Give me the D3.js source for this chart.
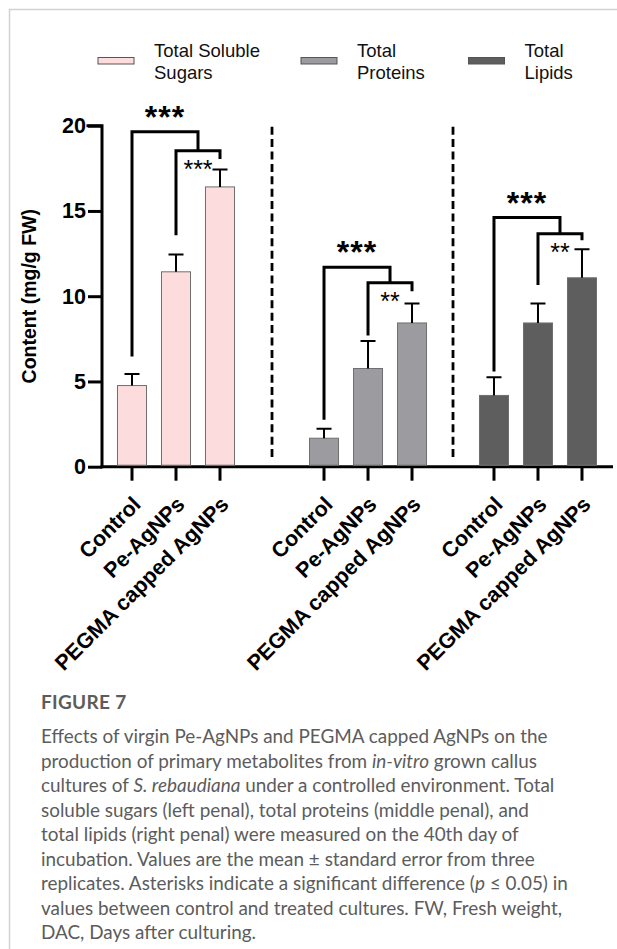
<!DOCTYPE html>
<html>
<head>
<meta charset="utf-8">
<script src="https://cdn.jsdelivr.net/npm/d3@7"></script>
<style>
  body { margin: 0; background: #fff; }
  svg { display: block; }
</style>
</head>
<body>
<svg id="chart" width="617" height="949"></svg>
<script>
// ---- data ----
const panelNames = ["Total Soluble Sugars", "Total Proteins", "Total Lipids"];
const legendLines = [["Total Soluble", "Sugars"], ["Total", "Proteins"], ["Total", "Lipids"]];
const treatments = ["Control", "Pe-AgNPs", "PEGMA capped AgNPs"];

const sugarMeans = [4.76, 11.43, 16.41];
const sugarErrors = [0.67, 1.02, 1.02];
const proteinMeans = [1.67, 5.76, 8.43];
const proteinErrors = [0.55, 1.61, 1.14];
const lipidMeans = [4.18, 8.43, 11.08];
const lipidErrors = [1.06, 1.14, 1.67];

const yTicks = [0, 5, 10, 15, 20];

// significance labels: outer bracket (Control vs treatments), inner bracket (Pe vs PEGMA)
const outerStars = ["***", "***", "***"];
const innerStars = ["***", "**", "**"];
// bracket levels in mg/g FW: [outer top, outer left foot, inner top, inner left foot, inner right foot]
const sugarBracket = [19.65, 6.47, 18.53, 13.57, 18.04];
const proteinBracket = [11.7, 2.75, 10.79, 7.69, 10.29];
const lipidBracket = [14.61, 5.59, 13.67, 10.65, 13.28];

const captionTitle = "FIGURE 7";
const captionLines = [
  [["Effects of virgin Pe-AgNPs and PEGMA capped AgNPs on the", false]],
  [["production of primary metabolites from ", false], ["in-vitro", true], [" grown callus", false]],
  [["cultures of ", false], ["S. rebaudiana", true], [" under a controlled environment. Total", false]],
  [["soluble sugars (left penal), total proteins (middle penal), and", false]],
  [["total lipids (right penal) were measured on the 40th day of", false]],
  [["incubation. Values are the mean \u00B1 standard error from three", false]],
  [["replicates. Asterisks indicate a significant difference (", false], ["p", true], [" \u2264 0.05) in", false]],
  [["values between control and treated cultures. FW, Fresh weight,", false]],
  [["DAC, Days after culturing.", false]]
];

// ---- styling / layout ----
const fills = ["#fcdcdc", "#9b9ba0", "#5e5e5e"];
const barStroke = "#6f6f6f";
const font = "'Liberation Sans', Arial, Helvetica, sans-serif";

const panels = [
  { name: panelNames[0], means: sugarMeans, errs: sugarErrors, bracket: sugarBracket, fill: fills[0] },
  { name: panelNames[1], means: proteinMeans, errs: proteinErrors, bracket: proteinBracket, fill: fills[1] },
  { name: panelNames[2], means: lipidMeans, errs: lipidErrors, bracket: lipidBracket, fill: fills[2] }
];
const panelSlot = [0, 4.364, 8.227]; // slot offset of each panel's first bar

const svg = d3.select("#chart");

// frame
svg.append("path")
  .attr("d", "M9.5,949 V9.5 H617")
  .attr("fill", "none").attr("stroke", "#d2d2d2").attr("stroke-width", 1.5);

const y = d3.scaleLinear().domain([0, 20]).range([466.7, 125.7]);
const x = d3.scaleLinear().domain([0, 1]).range([132, 176]); // slot -> bar centre
const barW = 29;
const axisX = 102;
const axisEnd = 613;

const g = svg.append("g");

// x axis baseline
g.append("line")
  .attr("x1", axisX - 1.5).attr("x2", axisEnd)
  .attr("y1", y(0)).attr("y2", y(0))
  .attr("stroke", "#000").attr("stroke-width", 3);

// y axis
const yAxis = d3.axisLeft(y).tickValues(yTicks).tickSize(14).tickPadding(2).tickFormat(d3.format("d"));
const ya = g.append("g").attr("transform", `translate(${axisX},0)`).call(yAxis);
ya.select(".domain").attr("stroke-width", 3).attr("d", `M-14,${y(20)}H0V${y(0)}`).attr("stroke-linecap", "square");
ya.selectAll(".tick line").attr("stroke-width", 3);
ya.selectAll(".tick text")
  .attr("font-family", font).attr("font-weight", "bold").attr("font-size", 21.5).attr("fill", "#000");

// y label
g.append("text")
  .attr("transform", `translate(36,${(y(0) + y(20)) / 2}) rotate(-90)`)
  .attr("text-anchor", "middle")
  .attr("font-family", font).attr("font-weight", "bold").attr("font-size", 19.5)
  .text("Content (mg/g FW)");

// dashed panel dividers
for (let p = 0; p < panels.length - 1; p++) {
  const xd = (x(panelSlot[p] + 2) + x(panelSlot[p + 1])) / 2;
  g.append("line")
    .attr("x1", xd).attr("x2", xd).attr("y1", y(20) + 1).attr("y2", y(0) - 8)
    .attr("stroke", "#000").attr("stroke-width", 2.8).attr("stroke-dasharray", "8,4.4");
}

panels.forEach((panel, p) => {
  const cx = i => x(panelSlot[p] + i);
  const pg = g.append("g");

  // bars
  pg.selectAll("rect.bar").data(panel.means).join("rect")
    .attr("class", "bar")
    .attr("x", (d, i) => cx(i) - barW / 2)
    .attr("y", d => y(d))
    .attr("width", barW)
    .attr("height", d => y(0) - 1.5 - y(d))
    .attr("fill", panel.fill)
    .attr("stroke", barStroke).attr("stroke-width", 1);

  // error bars (upper only)
  pg.selectAll("path.err").data(panel.means).join("path")
    .attr("class", "err")
    .attr("d", (d, i) => {
      const top = y(d + panel.errs[i]);
      return `M${cx(i)},${y(d)}V${top}M${cx(i) - 7.5},${top}H${cx(i) + 7.5}`;
    })
    .attr("fill", "none").attr("stroke", "#000").attr("stroke-width", 2);

  // x ticks
  pg.selectAll("line.xt").data(treatments).join("line")
    .attr("class", "xt")
    .attr("x1", (d, i) => cx(i)).attr("x2", (d, i) => cx(i))
    .attr("y1", y(0)).attr("y2", y(0) + 14)
    .attr("stroke", "#000").attr("stroke-width", 3);

  // x labels
  pg.selectAll("text.xl").data(treatments).join("text")
    .attr("class", "xl")
    .attr("transform", (d, i) => `translate(${cx(i) + 10},${y(0) + 39}) rotate(-45)`)
    .attr("text-anchor", "end")
    .attr("font-family", font).attr("font-weight", "bold").attr("font-size", 21.5)
    .text(d => d);

  // significance brackets
  const [oTop, oFoot, iTop, iLeftFoot, iRightFoot] = panel.bracket;
  const iMid = (cx(1) + cx(2)) / 2;
  pg.append("path")
    .attr("d", `M${cx(0)},${y(oFoot)}V${y(oTop)}H${iMid}V${y(iTop)}`)
    .attr("fill", "none").attr("stroke", "#000").attr("stroke-width", 3);
  pg.append("path")
    .attr("d", `M${cx(1)},${y(iLeftFoot)}V${y(iTop)}H${cx(2)}V${y(iRightFoot)}`)
    .attr("fill", "none").attr("stroke", "#000").attr("stroke-width", 3);

  pg.append("text")
    .attr("x", (cx(0) + iMid) / 2).attr("y", y(oTop) - 4)
    .attr("text-anchor", "middle")
    .attr("font-family", font).attr("font-weight", "bold").attr("font-size", 32)
    .attr("letter-spacing", 1)
    .text(outerStars[p]);
  pg.append("text")
    .attr("x", (cx(1) + cx(2)) / 2).attr("y", y(iTop) + 27)
    .attr("text-anchor", "middle")
    .attr("font-family", font).attr("font-weight", "normal").attr("font-size", 25)
    .text(innerStars[p]);
});

// legend
const legendX = [98, 301, 468.5];
const lg = svg.append("g");
panels.forEach((panel, p) => {
  lg.append("rect")
    .attr("x", legendX[p]).attr("y", 57.5).attr("width", 36).attr("height", 6.5)
    .attr("fill", panel.fill).attr("stroke", "#555").attr("stroke-width", 1);
  const t = lg.append("text")
    .attr("font-family", font).attr("font-size", 18.5).attr("fill", "#111");
  legendLines[p].forEach((line, k) => {
    t.append("tspan").attr("x", legendX[p] + 56).attr("y", 57 + k * 22).text(line);
  });
});

// caption
const cap = svg.append("g").attr("font-family", "Lato, 'Open Sans', sans-serif").attr("fill", "#5c5c5c");
cap.append("text").attr("x", 41).attr("y", 709)
  .attr("font-weight", "bold").attr("font-size", 19).attr("letter-spacing", 0.3).text(captionTitle);
const capLines = captionLines.map((parts, k) => {
  const t = cap.append("text").attr("x", 41).attr("y", 743 + k * 24.5).attr("font-size", 18);
  parts.forEach(([s, it]) => {
    t.append("tspan").attr("font-style", it ? "italic" : "normal").text(s);
  });
  return t;
});
// size the caption so its first line spans the caption column
const firstW = capLines[0].node().getComputedTextLength();
const capSize = 18 * 507 / firstW;
capLines.forEach(t => t.attr("font-size", capSize));
</script>
</body>
</html>
